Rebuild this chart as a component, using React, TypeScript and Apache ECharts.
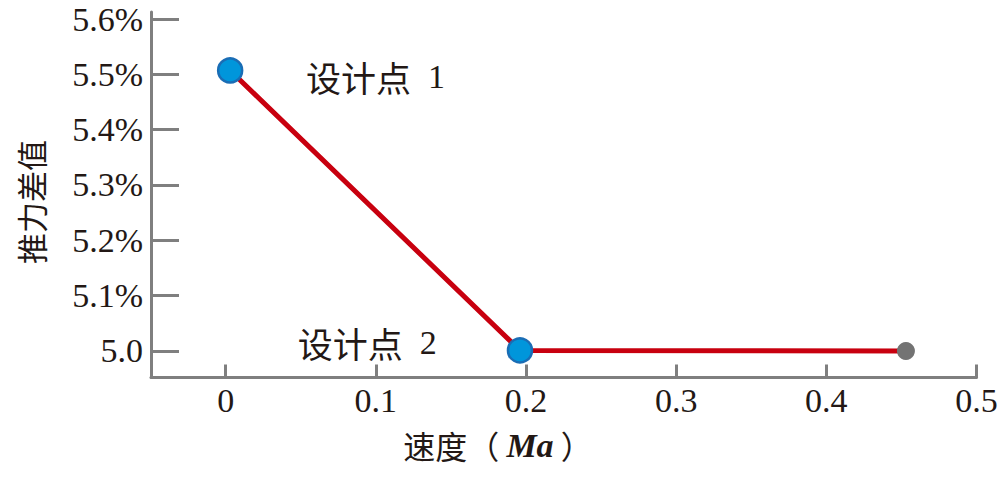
import React, { useEffect, useRef } from "react";
import * as echarts from "echarts";

const xTicks = [0, 0.1, 0.2, 0.3, 0.4, 0.5];
const yTicks = [5.0, 5.1, 5.2, 5.3, 5.4, 5.5, 5.6];
const speeds = [0.003, 0.196, 0.453];
const thrustDiff = [5.507, 5.001, 5.0];
const pointLabels = ["设计点 1", "设计点 2", ""];

const SERIF = "Liberation Serif";
const CJK = "Noto Sans CJK SC";

export default function App() {
  const ref = useRef<HTMLDivElement>(null);
  useEffect(() => {
    if (!ref.current) return;
    const chart = echarts.init(ref.current, undefined, { renderer: "svg" });
    const axisColor = "#7f7f7f";
    const labelRich = {
      c: { fontSize: 35, fontFamily: CJK, color: "#231815" },
      d: { fontSize: 34, fontFamily: SERIF, color: "#231815" },
    };
    const data = speeds.map((s, i) => {
      const isGrey = i === 2;
      const item: any = {
        value: [s, thrustDiff[i]],
        symbolSize: isGrey ? 18 : 24,
        itemStyle: isGrey
          ? { color: "#737373", borderWidth: 0 }
          : { color: "#0096DB", borderColor: "#1A6DB5", borderWidth: 2.5 },
      };
      if (i === 0 || i === 1) {
        const parts = pointLabels[i].split(" ");
        item.label = {
          show: true,
          formatter: "{c|" + parts[0] + "}{d|  " + parts[1] + "}",
          position: i === 0 ? [89, 19] : [-70, 5],
          align: i === 0 ? "left" : "right",
          verticalAlign: "middle",
          fontSize: 34,
          fontFamily: CJK,
          color: "#231815",
          rich: labelRich,
        };
      }
      return item;
    });
    chart.setOption({
      animation: false,
      grid: { left: 151, right: 30.5, top: 12, bottom: 100.5, containLabel: false },
      xAxis: {
        type: "value",
        min: -0.0497,
        max: 0.5,
        splitLine: { show: false },
        axisLine: { show: true, onZero: false, lineStyle: { color: axisColor, width: 3 } },
        axisTick: {
          show: true,
          inside: true,
          length: 13,
          customValues: xTicks,
          lineStyle: { color: axisColor, width: 3 },
        },
        axisLabel: {
          customValues: xTicks,
          formatter: (v: number) => (Math.abs(v) < 1e-9 ? "0" : v.toFixed(1)),
          fontSize: 34,
          fontFamily: SERIF,
          color: "#231815",
          margin: 6,
        },
      },
      yAxis: {
        type: "value",
        min: 4.952,
        max: 5.6127,
        splitLine: { show: false },
        axisLine: { show: true, onZero: false, lineStyle: { color: axisColor, width: 3 } },
        axisTick: {
          show: true,
          inside: true,
          length: 28,
          customValues: yTicks,
          lineStyle: { color: axisColor, width: 3 },
        },
        axisLabel: {
          customValues: yTicks,
          formatter: (v: number) => (Math.abs(v - 5) < 1e-9 ? "5.0" : v.toFixed(1) + "%"),
          fontSize: 34,
          fontFamily: SERIF,
          color: "#231815",
          margin: 8,
        },
      },
      graphic: [
        {
          type: "text",
          x: 30,
          y: 202,
          rotation: Math.PI / 2,
          style: {
            text: "推力差值",
            fontSize: 31,
            fontFamily: CJK,
            fill: "#231815",
            align: "center",
            verticalAlign: "middle",
          },
        },
        {
          type: "text",
          x: 498,
          y: 445,
          style: {
            text: "速度（ {i|Ma} ）",
            fontSize: 32,
            fontFamily: CJK,
            fill: "#231815",
            align: "center",
            verticalAlign: "middle",
            rich: {
              i: {
                fontSize: 34,
                fontFamily: SERIF,
                fontStyle: "italic",
                fontWeight: "bold",
                fill: "#231815",
              },
            },
          },
        },
      ],
      series: [
        {
          type: "line",
          data,
          symbol: "circle",
          lineStyle: { color: "#C8000F", width: 5 },
          itemStyle: { color: "#0096DB" },
          z: 3,
        },
      ],
    });
    return () => chart.dispose();
  }, []);
  return (
    <div
      ref={ref}
      style={{ position: "fixed", left: 0, top: 0, width: 1007, height: 478, background: "#fff" }}
    />
  );
}
